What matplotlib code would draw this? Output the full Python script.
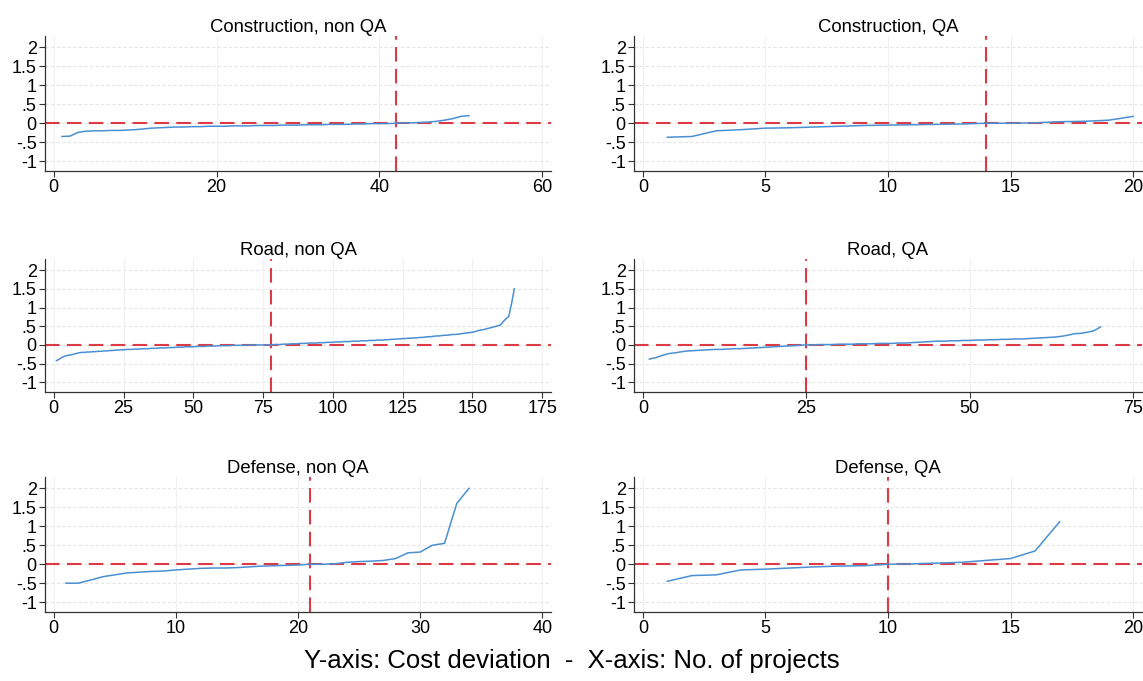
import matplotlib
matplotlib.use("Agg")
import matplotlib.pyplot as plt

# font close to the Arial used in the Stata export
plt.rcParams['font.family'] = ['Liberation Sans', 'DejaVu Sans']

# ---- data: sorted cost deviations per project, x = 1..N ----
titles = ["Construction, non QA", "Construction, QA",
          "Road, non QA", "Road, QA",
          "Defense, non QA", "Defense, QA"]

constr_nonqa = [-0.35, -0.34, -0.24, -0.21, -0.20, -0.20, -0.19, -0.19, -0.18, -0.17,
                -0.15, -0.13, -0.12, -0.11, -0.10, -0.10, -0.09, -0.09, -0.08, -0.08,
                -0.08, -0.07, -0.07, -0.07, -0.06, -0.06, -0.06, -0.05, -0.05, -0.05,
                -0.04, -0.04, -0.04, -0.03, -0.03, -0.03, -0.02, -0.02, -0.01, -0.01,
                -0.01, 0.00, 0.01, 0.01, 0.02, 0.03, 0.05, 0.08, 0.12, 0.18, 0.20]

constr_qa = [-0.37, -0.35, -0.20, -0.17, -0.13, -0.12, -0.10, -0.08, -0.06, -0.05,
             -0.04, -0.03, -0.02, 0.00, 0.00, 0.01, 0.04, 0.05, 0.08, 0.18]

road_nonqa = [-0.42, -0.38, -0.33, -0.30, -0.28, -0.27, -0.25, -0.23, -0.21, -0.20,
              -0.20, -0.19, -0.19, -0.18, -0.18, -0.17, -0.17, -0.16, -0.16, -0.15,
              -0.15, -0.14, -0.14, -0.13, -0.13, -0.12, -0.12, -0.12, -0.11, -0.11,
              -0.11, -0.10, -0.10, -0.10, -0.09, -0.09, -0.09, -0.08, -0.08, -0.08,
              -0.07, -0.07, -0.07, -0.06, -0.06, -0.06, -0.05, -0.05, -0.05, -0.05,
              -0.04, -0.04, -0.04, -0.04, -0.03, -0.03, -0.03, -0.03, -0.02, -0.02,
              -0.02, -0.02, -0.02, -0.01, -0.01, -0.01, -0.01, -0.01, -0.01, 0.00,
              0.00, 0.00, 0.00, 0.00, 0.00, 0.00, 0.00, 0.00, 0.01, 0.01,
              0.01, 0.02, 0.02, 0.02, 0.03, 0.03, 0.03, 0.04, 0.04, 0.04,
              0.05, 0.05, 0.05, 0.05, 0.06, 0.06, 0.06, 0.07, 0.07, 0.07,
              0.08, 0.08, 0.08, 0.09, 0.09, 0.09, 0.10, 0.10, 0.10, 0.11,
              0.11, 0.11, 0.12, 0.12, 0.12, 0.13, 0.13, 0.13, 0.14, 0.14,
              0.15, 0.15, 0.16, 0.16, 0.17, 0.17, 0.18, 0.18, 0.19, 0.19,
              0.20, 0.20, 0.21, 0.22, 0.22, 0.23, 0.24, 0.24, 0.25, 0.26,
              0.26, 0.27, 0.28, 0.28, 0.29, 0.30, 0.31, 0.32, 0.33, 0.34,
              0.36, 0.38, 0.40, 0.41, 0.43, 0.45, 0.47, 0.49, 0.51, 0.53,
              0.62, 0.70, 0.76, 1.10, 1.50]

road_qa = [-0.38, -0.34, -0.28, -0.23, -0.21, -0.18, -0.16, -0.15, -0.14, -0.13,
           -0.12, -0.12, -0.11, -0.10, -0.10, -0.09, -0.08, -0.07, -0.06, -0.05,
           -0.04, -0.03, -0.02, -0.01, 0.00, 0.00, 0.01, 0.01, 0.01, 0.02,
           0.02, 0.02, 0.03, 0.03, 0.03, 0.04, 0.04, 0.04, 0.05, 0.05,
           0.06, 0.07, 0.08, 0.09, 0.10, 0.10, 0.11, 0.11, 0.12, 0.12,
           0.13, 0.13, 0.14, 0.14, 0.15, 0.15, 0.16, 0.16, 0.17, 0.18,
           0.19, 0.20, 0.21, 0.23, 0.26, 0.30, 0.31, 0.34, 0.38, 0.48]

defense_nonqa = [-0.50, -0.50, -0.42, -0.33, -0.28, -0.23, -0.21, -0.19, -0.18, -0.15,
                 -0.13, -0.11, -0.10, -0.10, -0.09, -0.07, -0.05, -0.04, -0.03, -0.02,
                 0.00, 0.00, 0.01, 0.05, 0.07, 0.08, 0.10, 0.15, 0.30, 0.32,
                 0.50, 0.55, 1.60, 2.00]

defense_qa = [-0.45, -0.30, -0.28, -0.15, -0.13, -0.10, -0.07, -0.05, -0.04, 0.00,
              0.01, 0.03, 0.05, 0.10, 0.15, 0.35, 1.12]

series = [constr_nonqa, constr_qa, road_nonqa, road_qa, defense_nonqa, defense_qa]

# position of the red vertical line (project where deviation crosses zero)
cross_x = [42, 14, 78, 25, 21, 10]

xticks = [[0, 20, 40, 60], [0, 5, 10, 15, 20],
          [0, 25, 50, 75, 100, 125, 150, 175], [0, 25, 50, 75],
          [0, 10, 20, 30, 40], [0, 5, 10, 15, 20]]

yticks = [-1, -0.5, 0, 0.5, 1, 1.5, 2]
ylabels = ["-1", "-.5", "0", ".5", "1", "1.5", "2"]

# ---- figure layout (pixels of a 1143x681 image) ----
W, H = 1143, 681
fig = plt.figure(figsize=(W / 100, H / 100), dpi=100)
fig.patch.set_facecolor('white')

col_px = [(45, 551), (634, 1142)]
row_px = [(36, 171), (259, 392), (477, 612)]

line_blue = '#4a8fd2'
ref_red = '#dc3b45'

for i in range(6):
    r, c = divmod(i, 2)
    x0, x1 = col_px[c]
    y0, y1 = row_px[r]
    ax = fig.add_axes([x0 / W, 1 - y1 / H, (x1 - x0) / W, (y1 - y0) / H])

    vals = series[i]
    xs = list(range(1, len(vals) + 1))
    top = xticks[i][-1]
    pad = top * 0.018

    # grid
    for yt in yticks:
        ax.axhline(yt, color='#e4e4e4', lw=0.8, ls=(0, (3, 2)), zorder=0)
    for xt in xticks[i]:
        ax.axvline(xt, color='#f0f0f0', lw=0.8, zorder=0)

    # reference lines
    ax.axhline(0, color=ref_red, lw=1.5, ls=(0, (7, 3.5)), zorder=2)
    ax.axvline(cross_x[i], color=ref_red, lw=1.5, ls=(0, (7, 3.5)), zorder=2)

    ax.plot(xs, vals, color=line_blue, lw=1.1, zorder=3)

    ax.set_xlim(-pad, top + pad)
    ax.set_ylim(-1.26, 2.3)
    ax.set_xticks(xticks[i])
    ax.set_yticks(yticks)
    ax.set_yticklabels(ylabels)
    ax.tick_params(labelsize=13, length=4, width=0.8, color='#333333', pad=2)
    for side in ['top', 'right']:
        ax.spines[side].set_visible(False)
    for side in ['left', 'bottom']:
        ax.spines[side].set_color('#333333')
        ax.spines[side].set_linewidth(0.9)
    ax.set_title(titles[i], fontsize=13.3, pad=3)

fig.text(0.5, 1 - 661 / H, "Y-axis: Cost deviation  -  X-axis: No. of projects",
         ha='center', va='center', fontsize=18.5)

fig.savefig("out.png", dpi=100)
